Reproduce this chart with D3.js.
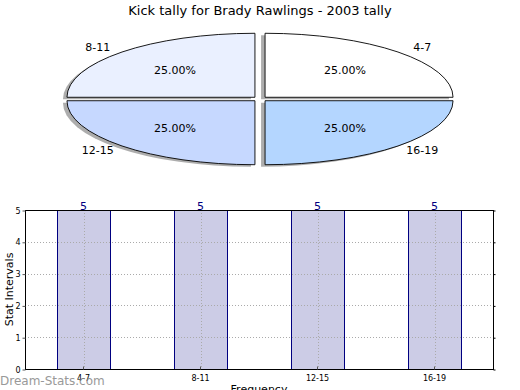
<!DOCTYPE html>
<html>
<head>
<meta charset="utf-8">
<script src="https://cdn.jsdelivr.net/npm/d3@7"></script>
<style>
  body { margin: 0; background: #fff; }
  svg { display: block; font-family: "DejaVu Sans", sans-serif; }
</style>
</head>
<body>
<svg id="chart" width="520" height="390"></svg>
<script>
var categories = ["4-7", "8-11", "12-15", "16-19"];
var counts = [5, 5, 5, 5];
var sliceColors = ["#ffffff", "#eaf0ff", "#c6d8ff", "#b4d6ff"];
var yTicks = [0, 1, 2, 3, 4, 5];
var title = "Kick tally for Brady Rawlings - 2003 tally";

var svg = d3.select("#chart");

// Title
svg.append("text")
    .attr("x", 260)
    .attr("y", 15)
    .attr("text-anchor", "middle")
    .attr("font-size", "13px")
    .text(title);

// ---- Pie (flattened into an ellipse) ----
var cx = 260, cy = 99, rx = 188, ry = 64;
var explode = 0.038;

var pie = d3.pie()
    .sort(null)
    .startAngle(Math.PI / 2)
    .endAngle(Math.PI / 2 - 2 * Math.PI)
    .value(function (d) { return d; });

var arcs = pie(counts);
var unitArc = d3.arc().innerRadius(0).outerRadius(1);
var total = d3.sum(counts);

// offset from the centre along a slice's middle angle
function offsetOf(d, kx, ky) {
    if (ky === undefined) ky = kx;
    var a = (d.startAngle + d.endAngle) / 2;
    return [Math.sin(a) * kx * rx, -Math.cos(a) * ky * ry];
}

var pieG = svg.append("g");

// shadows
arcs.forEach(function (d) {
    var o = offsetOf(d, explode);
    pieG.append("path")
        .attr("d", unitArc(d))
        .attr("transform", "translate(" + (cx + o[0] - 4) + "," + (cy + o[1] + 2) + ") scale(" + rx + "," + ry + ")")
        .attr("fill", "#8a8a8a")
        .attr("opacity", 0.7);
});

// slices
arcs.forEach(function (d, i) {
    var o = offsetOf(d, explode);
    pieG.append("path")
        .attr("d", unitArc(d))
        .attr("transform", "translate(" + (cx + o[0]) + "," + (cy + o[1]) + ") scale(" + rx + "," + ry + ")")
        .attr("fill", sliceColors[i])
        .attr("stroke", "#000")
        .attr("stroke-width", 0.9)
        .attr("vector-effect", "non-scaling-stroke");
});

// percent labels
arcs.forEach(function (d) {
    var o = offsetOf(d, 0.64);
    pieG.append("text")
        .attr("x", cx + o[0])
        .attr("y", cy + o[1])
        .attr("dy", "0.35em")
        .attr("text-anchor", "middle")
        .attr("font-size", "11px")
        .text((d.value / total * 100).toFixed(2) + "%");
});

// category labels
arcs.forEach(function (d, i) {
    var o = offsetOf(d, 1.22, 1.14);
    pieG.append("text")
        .attr("x", cx + o[0])
        .attr("y", cy + o[1])
        .attr("dy", "0.35em")
        .attr("text-anchor", "middle")
        .attr("font-size", "11px")
        .text(categories[i]);
});

// ---- Bar chart ----
var plotLeft = 25, plotRight = 493, plotTop = 210, plotBottom = 369;

var x = d3.scaleBand()
    .domain(categories)
    .range([plotLeft, plotRight])
    .padding(0);

var y = d3.scaleLinear()
    .domain([0, 5])
    .range([plotBottom, plotTop]);

var barW = x.bandwidth() * 0.45;

// bars
svg.selectAll(".bar")
    .data(counts)
    .enter().append("rect")
    .attr("class", "bar")
    .attr("x", function (d, i) { return Math.round(x(categories[i]) + (x.bandwidth() - barW) / 2) + 0.5; })
    .attr("y", function (d) { return y(d) + 0.5; })
    .attr("width", Math.round(barW))
    .attr("height", function (d) { return y(0) - y(d); })
    .attr("fill", "#cccce6")
    .attr("stroke", "#000080")
    .attr("stroke-width", 1);

// horizontal grid
svg.selectAll(".hgrid")
    .data(yTicks.slice(1, -1))
    .enter().append("line")
    .attr("x1", plotLeft).attr("x2", plotRight)
    .attr("y1", function (d) { return Math.round(y(d)) + 0.5; })
    .attr("y2", function (d) { return Math.round(y(d)) + 0.5; })
    .attr("stroke", "#aaa")
    .attr("stroke-dasharray", "1,2");

// vertical grid
svg.selectAll(".vgrid")
    .data(categories)
    .enter().append("line")
    .attr("x1", function (d) { return Math.round(x(d) + x.bandwidth() / 2) + 0.5; })
    .attr("x2", function (d) { return Math.round(x(d) + x.bandwidth() / 2) + 0.5; })
    .attr("y1", plotTop).attr("y2", plotBottom)
    .attr("stroke", "#aaa")
    .attr("stroke-dasharray", "1,2");

// frame
svg.append("rect")
    .attr("x", plotLeft + 0.5).attr("y", plotTop + 0.5)
    .attr("width", plotRight - plotLeft).attr("height", plotBottom - plotTop)
    .attr("fill", "none")
    .attr("stroke", "#000");

// y axis
var yAxis = svg.append("g")
    .attr("transform", "translate(" + (plotLeft + 0.5) + ",0.5)")
    .call(d3.axisLeft(y).tickValues(yTicks).tickFormat(d3.format("d")).tickSize(3).tickPadding(2));
yAxis.select(".domain").remove();
yAxis.selectAll("line").attr("stroke", "#555");
yAxis.selectAll("text").attr("font-size", "8px").attr("font-family", "DejaVu Sans, sans-serif");

// right side ticks
svg.append("g")
    .attr("transform", "translate(" + (plotRight + 0.5) + ",0.5)")
    .call(d3.axisRight(y).tickValues(yTicks).tickSize(2).tickFormat(""))
    .select(".domain").remove();

// x axis
var xAxis = svg.append("g")
    .attr("transform", "translate(0," + (plotBottom + 0.5) + ")")
    .call(d3.axisBottom(x).tickSize(-3).tickPadding(6));
xAxis.select(".domain").remove();
xAxis.selectAll("line").attr("stroke", "#555");
xAxis.selectAll("text").attr("font-size", "8px").attr("font-family", "DejaVu Sans, sans-serif");

// value labels
svg.selectAll(".val")
    .data(counts)
    .enter().append("text")
    .attr("x", function (d, i) { return x(categories[i]) + x.bandwidth() / 2; })
    .attr("y", function (d) { return y(d) - 0.5; })
    .attr("text-anchor", "middle")
    .attr("font-size", "11px")
    .attr("fill", "#000080")
    .text(function (d) { return d; });

// axis titles
svg.append("text")
    .attr("x", 259)
    .attr("y", 393)
    .attr("text-anchor", "middle")
    .attr("font-size", "11px")
    .text("Frequency");

svg.append("text")
    .attr("transform", "translate(13," + ((plotTop + plotBottom) / 2) + ") rotate(-90)")
    .attr("text-anchor", "middle")
    .attr("font-size", "11px")
    .text("Stat Intervals");

// watermark
svg.append("text")
    .attr("x", 0)
    .attr("y", 385)
    .attr("font-size", "12px")
    .attr("fill", "#888")
    .attr("opacity", 0.85)
    .text("Dream-Stats.com");
</script>
</body>
</html>
